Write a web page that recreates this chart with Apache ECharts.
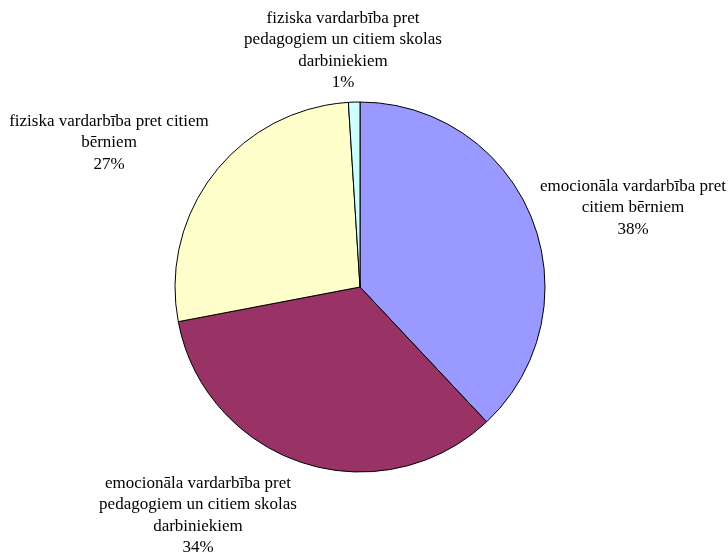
<!DOCTYPE html>
<html>
<head>
<meta charset="utf-8">
<script src="https://cdn.jsdelivr.net/npm/echarts@6/dist/echarts.min.js"></script>
<style>
  html, body { margin: 0; padding: 0; background: #fff; }
  #chart { width: 728px; height: 552px; }
</style>
</head>
<body>
<div id="chart"></div>
<script>
// Vardarbības veidi (daļa no visiem gadījumiem, %)
const categories = [
  'emocionāla vardarbība pret\ncitiem bērniem',
  'emocionāla vardarbība pret\npedagogiem un citiem skolas\ndarbiniekiem',
  'fiziska vardarbība pret citiem\nbērniem',
  'fiziska vardarbība pret\npedagogiem un citiem skolas\ndarbiniekiem'
];
const values = [38, 34, 27, 1];
const colors = ['#9999FF', '#993366', '#FFFFCC', '#CCFFFF'];

// label block centres, one per slice
const labelAnchors = [
  [633, 208],
  [198, 515.5],
  [109, 143],
  [343, 50.5]
];

const chart = echarts.init(document.getElementById('chart'), null, { renderer: 'canvas' });
chart.setOption({
  backgroundColor: '#ffffff',
  animation: false,
  series: [{
    type: 'pie',
    center: [360, 287],
    radius: [0, 185],
    startAngle: 90,
    clockwise: true,
    data: categories.map((name, i) => ({
      name: name,
      value: values[i],
      itemStyle: { color: colors[i] }
    })),
    itemStyle: { borderColor: '#000000', borderWidth: 1 },
    emphasis: { disabled: true },
    label: {
      show: true,
      position: 'outside',
      formatter: p => p.name + '\n' + p.value + '%',
      fontFamily: '"Liberation Serif", "Times New Roman", serif',
      fontSize: 17,
      lineHeight: 21.5,
      color: '#000000',
      align: 'center',
      overflow: 'none'
    },
    labelLine: { show: false },
    labelLayout: function (params) {
      const a = labelAnchors[params.dataIndex];
      return { x: a[0], y: a[1], align: 'center', verticalAlign: 'middle' };
    }
  }]
});
</script>
</body>
</html>
